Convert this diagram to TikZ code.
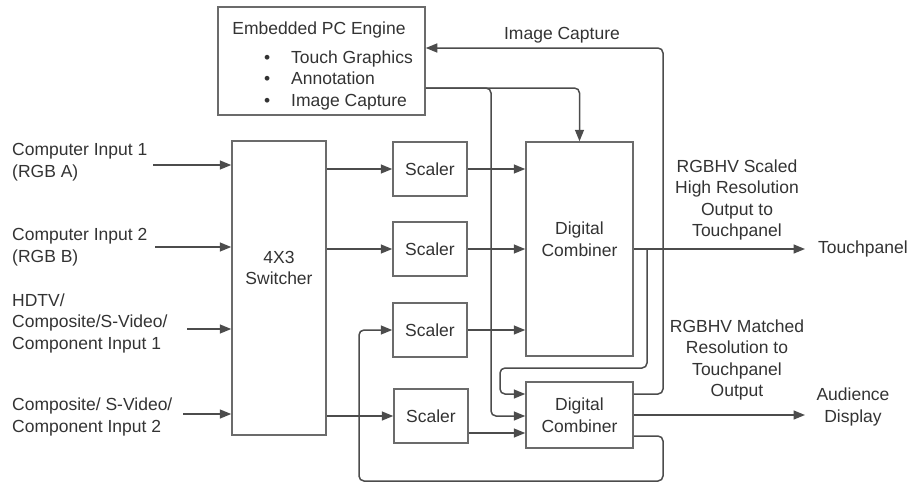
\documentclass[tikz,border=0pt]{standalone}
\usepackage{fontspec}
\setmainfont{Liberation Sans}
\usetikzlibrary{arrows.meta}
\definecolor{linec}{gray}{0.30}
\definecolor{boxc}{gray}{0.42}
\definecolor{txtc}{gray}{0.20}
\tikzset{
  box/.style={draw=boxc, line width=1.5pt, inner sep=0pt, fill=white,
              font=\fontsize{17.5}{21.5}\selectfont, text=txtc, align=center},
  txt/.style={inner sep=0pt, font=\fontsize{17.5}{21.5}\selectfont, text=txtc},
  conn/.style={draw=linec, line width=1.5pt, rounded corners=5pt},
  arr/.style={conn, -{Triangle[length=11.5pt,width=9pt]}},
}
\begin{document}
\begin{tikzpicture}[x=1pt,y=-1pt]
\useasboundingbox (0,0) rectangle (924,483);
% boxes
\node[box, minimum width=207pt, minimum height=108pt] (pc) at (321.5,61) {};
\node[txt] (pct) at (319,30) {Embedded PC Engine};
\node[txt, anchor=west, align=left] (pcl) at (264,80)
  {\makebox[27pt][l]{•}Touch Graphics\\\makebox[27pt][l]{•}Annotation\\\makebox[27pt][l]{•}Image Capture};
\node[box, minimum width=94pt, minimum height=294pt] (sw) at (279,288) {};
\node[txt, align=center] (swt) at (279,268) {4X3\\Switcher};
\node[box, minimum width=74pt, minimum height=54pt] (sc1) at (430,169) {Scaler};
\node[box, minimum width=74pt, minimum height=54pt] (sc2) at (430,249) {Scaler};
\node[box, minimum width=74pt, minimum height=54pt] (sc3) at (430,330) {Scaler};
\node[box, minimum width=74pt, minimum height=54pt] (sc4) at (431,416) {Scaler};
\node[box, minimum width=107pt, minimum height=214pt] (cb1) at (579.5,249) {};
\node[txt, align=center] (cb1t) at (579.5,239) {Digital\\Combiner};
\node[box, minimum width=107pt, minimum height=66pt] (cb2) at (579.5,415) {Digital\\Combiner};
% input labels
\node[txt, anchor=west, align=left] (in1) at (12,162) {Computer Input 1\\(RGB A)};
\node[txt, anchor=west, align=left] (in2) at (12,247) {Computer Input 2\\(RGB B)};
\node[txt, anchor=west, align=left] (in3) at (12,323) {HDTV/\\Composite/S-Video/\\Component Input 1};
\node[txt, anchor=west, align=left] (in4) at (12,417) {Composite/ S-Video/\\Component Input 2};
% output labels
\node[txt] (icl) at (562,35) {Image Capture};
\node[txt, align=center] (hrl) at (737,200) {RGBHV Scaled\\High Resolution\\Output to\\Touchpanel};
\node[txt, align=center] (mrl) at (737,360) {RGBHV Matched\\Resolution to\\Touchpanel\\Output};
\node[txt, anchor=west] (tp) at (818,249) {Touchpanel};
\node[txt, align=center] (ad) at (853,407) {Audience\\Display};
% coordinates
\coordinate (a1) at (153,165);
\coordinate (a2) at (155,247);
\coordinate (a3) at (187,329);
\coordinate (a4) at (183,414);
\coordinate (r48) at (0,48);
\coordinate (r88) at (0,88);
\coordinate (r394) at (0,394);
\coordinate (r416) at (0,416);
\coordinate (r433) at (0,433);
\coordinate (r436) at (0,436);
\coordinate (pcj) at (491,88);
\coordinate (tpj) at (647,249);
\coordinate (tpe) at (805,249);
\coordinate (ade) at (805,415);
% inputs
\draw[arr] (a1) -- (a1 -| sw.west);
\draw[arr] (a2) -- (a2 -| sw.west);
\draw[arr] (a3) -- (a3 -| sw.west);
\draw[arr] (a4) -- (a4 -| sw.west);
% switcher to scalers
\draw[arr] (sc1.west -| sw.east) -- (sc1.west);
\draw[arr] (sc2.west -| sw.east) -- (sc2.west);
\draw[arr] (sc4.west -| sw.east) -- (sc4.west);
% scalers to combiners
\draw[arr] (sc1.east) -- (sc1.east -| cb1.west);
\draw[arr] (sc2.east) -- (sc2.east -| cb1.west);
\draw[arr] (sc3.east) -- (sc3.east -| cb1.west);
\draw[arr] (sc4.east |- r433) -- (cb2.west |- r433);
% PC engine outputs
\draw[arr] (pc.east |- r88) -- (cb1.north |- r88) -- (cb1.north);
\draw[arr] (pc.east |- r88) -- (pcj) -- (pcj |- r416) -- (cb2.west |- r416);
% combiner 1 outputs
\draw[arr] (cb1.east) -- (tpe);
\draw[arr] (tpj) -- (647,368) -- (500,368) -- (500,394) -- (cb2.west |- r394);
% combiner 2 outputs
\draw[arr] (cb2.east |- r394) -- (663,394) -- (663,48) -- (pc.east |- r48);
\draw[arr] (cb2.east) -- (ade);
\draw[arr] (cb2.east |- r436) -- (663,436) -- (663,481) -- (359,481) -- (359,330) -- (sc3.west);
\end{tikzpicture}
\end{document}
